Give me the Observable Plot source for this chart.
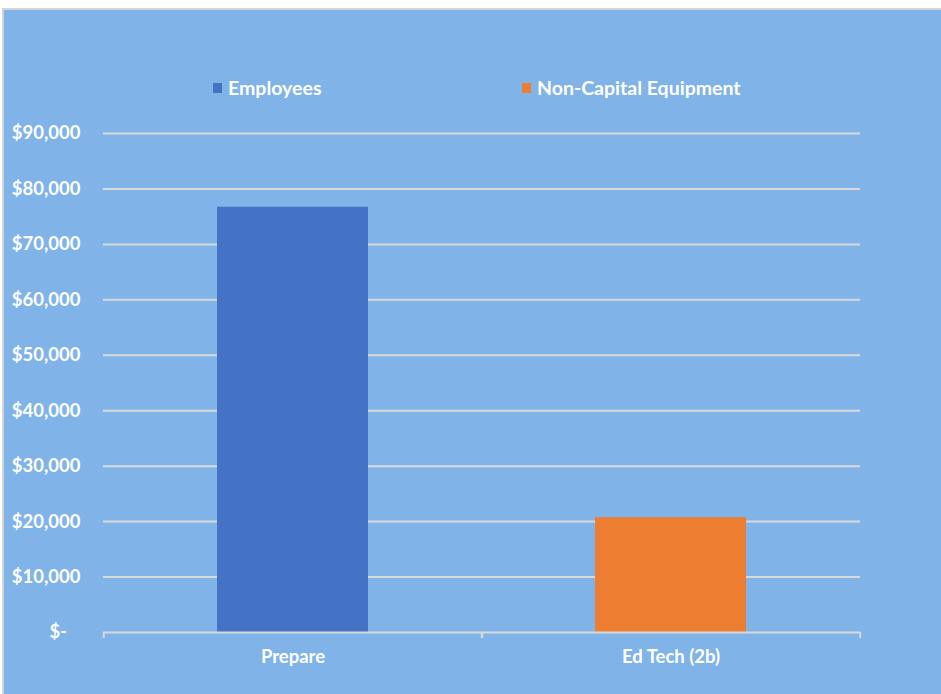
<!DOCTYPE html>
<html>
<head>
<meta charset="utf-8">
<script src="https://cdn.jsdelivr.net/npm/d3@7"></script>
<script src="https://cdn.jsdelivr.net/npm/@observablehq/plot@0.6"></script>
<style>
  html, body { margin: 0; padding: 0; background: #ffffff; }
  #page { position: relative; width: 941px; height: 694px; overflow: hidden; font-family: Lato, "Open Sans", sans-serif; }
  #bg { position: absolute; left: 2px; top: 8px; right: 0; bottom: 0; background: #80B3E8; border-top: 2px solid #d4d4d4; border-left: 2px solid #d4d4d4; }
  .leg { position: absolute; top: 76px; display: flex; align-items: center; color: #ffffff; font-weight: 700; font-size: 19.5px; }
  .leg span.sw { display: inline-block; width: 9px; height: 10px; margin-right: 6px; }
  #chart { position: absolute; left: 0; top: 110px; }
</style>
</head>
<body>
<div id="page">
  <div id="bg"></div>
  <div id="legend"></div>
  <div id="chart"></div>
</div>
<script>
const categories = ["Prepare", "Ed Tech (2b)"];
const series = ["Employees", "Non-Capital Equipment"];
const values = [76700, 20700];
const colors = ["#4472C4", "#ED7D31"];
const yTicks = [0, 10000, 20000, 30000, 40000, 50000, 60000, 70000, 80000, 90000];

const data = categories.map((c, i) => ({category: c, series: series[i], value: values[i]}));

// legend
const legendLefts = [213, 522];
const legend = document.getElementById("legend");
series.forEach((s, i) => {
  const d = document.createElement("div");
  d.className = "leg";
  d.style.left = legendLefts[i] + "px";
  d.innerHTML = `<span class="sw" style="background:${colors[i]}"></span>${s}`;
  legend.appendChild(d);
});

const width = 941, height = 584;
const marginLeft = 103, marginRight = 81, marginTop = 23, marginBottom = 62;
const step = (width - marginLeft - marginRight) / categories.length;
const grid = "#d9d9d9";

const fmt = v => v === 0 ? "$-\u00A0\u00A0\u00A0" : "$" + d3.format(",")(v);

const chart = Plot.plot({
  width, height, marginLeft, marginRight, marginTop, marginBottom,
  style: {background: "transparent", fontFamily: "Lato, 'Open Sans', sans-serif", color: "#ffffff"},
  x: {domain: categories, paddingInner: 0.6, paddingOuter: 0.3, label: null},
  y: {domain: [0, 90000], label: null},
  color: {domain: series, range: colors},
  marks: [
    Plot.gridY(yTicks.filter(t => t > 0), {stroke: grid, strokeOpacity: 1, strokeWidth: 2}),
    Plot.barY(data, {x: "category", y: "value", fill: "series"}),
    Plot.ruleY([0], {stroke: grid, strokeWidth: 2}),
    Plot.axisY({ticks: yTicks, tickFormat: fmt, tickSize: 0, tickPadding: 23, fontSize: 18.5, fontWeight: 700, fill: "#ffffff"}),
    Plot.axisX({tickSize: 0, tickPadding: 17, fontSize: 18.5, fontWeight: 700, fill: "#ffffff"}),
    Plot.axisX({tickSize: 6, text: null, dx: -step / 2, stroke: grid, strokeWidth: 2}),
    Plot.axisX({tickSize: 6, text: null, dx: step / 2, stroke: grid, strokeWidth: 2})
  ]
});
document.getElementById("chart").appendChild(chart);
</script>
</body>
</html>
